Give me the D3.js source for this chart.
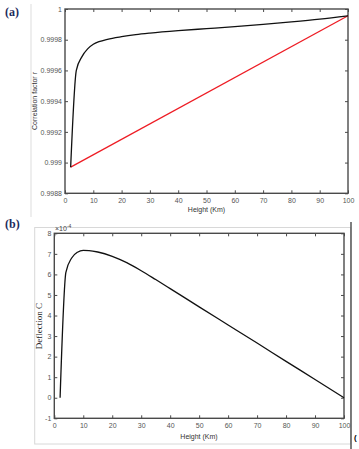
<!DOCTYPE html>
<html><head><meta charset="utf-8">
<script src="https://cdn.jsdelivr.net/npm/d3@7"></script>
<style>
html,body{margin:0;padding:0;background:#fff;}
svg{display:block;}
</style></head>
<body>
<script>
// ---- data ----
const heightA = [2,4,6,8,10,12,15,20,25,30,40,50,60,70,80,90,100];
const corrBlack = [0.99897,0.9996,0.99969,0.99974,0.99977,0.999787,0.999803,0.99982,0.999833,0.999843,0.999859,0.999872,0.999885,0.9999,0.999916,0.999934,0.999956];
const heightRed = [2,100];
const corrRed = [0.99897,0.999956];
const yTicksA = [0.9988,0.999,0.9992,0.9994,0.9996,0.9998,1];
const yTickLabelsA = ["0.9988","0.999","0.9992","0.9994","0.9996","0.9998","1"];
const xTicks = [0,10,20,30,40,50,60,70,80,90,100];

const heightB = [2,4,6,8,10,12,15,20,25,30,35,40,50,60,70,80,90,100];
const deflB = [0,6.1,6.8,7.08,7.17,7.16,7.09,6.88,6.57,6.18,5.75,5.31,4.42,3.54,2.66,1.77,0.89,0];
const yTicksB = [-1,0,1,2,3,4,5,6,7,8];

const W = 359, H = 449;
const svg = d3.select("body").append("svg").attr("width",W).attr("height",H)
  .style("font-family","'Liberation Sans', Arial, sans-serif");

const axisColor = "#4a4a4a";
const tickText = "#555";

function styleAxis(g){
  g.select(".domain").remove();
  g.selectAll(".tick line").attr("stroke",axisColor).attr("stroke-width",1);
  g.selectAll(".tick text").attr("fill",tickText).style("font-size","7px").style("font-family","'Liberation Sans', Arial, sans-serif");
}

function panel(opts){
  const {x0,x1,y0,y1,ydom,yticks,ylabels} = opts;
  const x = d3.scaleLinear().domain([0,100]).range([x0,x1]);
  const y = d3.scaleLinear().domain(ydom).range([y1,y0]);
  const g = svg.append("g");
  g.append("g").attr("transform",`translate(0,${y1})`)
    .call(d3.axisBottom(x).tickValues(xTicks).tickSize(-3).tickPadding(5).tickFormat(d3.format("d")))
    .call(styleAxis);
  g.append("g").attr("transform",`translate(0,${y0})`)
    .call(d3.axisTop(x).tickValues(xTicks).tickSize(-3).tickFormat(""))
    .call(styleAxis);
  g.append("g").attr("transform",`translate(${x0},0)`)
    .call(d3.axisLeft(y).tickValues(yticks).tickSize(-3).tickPadding(3).tickFormat((d,i)=>ylabels[i]))
    .call(styleAxis);
  g.append("g").attr("transform",`translate(${x1},0)`)
    .call(d3.axisRight(y).tickValues(yticks).tickSize(-3).tickFormat(""))
    .call(styleAxis);
  g.append("rect").attr("x",x0).attr("y",y0).attr("width",x1-x0).attr("height",y1-y0)
    .attr("fill","none").attr("stroke",axisColor).attr("stroke-width",1.4);
  return {x,y,g};
}

// ---- panel (a) ----
svg.append("line").attr("x1",31).attr("x2",31).attr("y1",4).attr("y2",217)
  .attr("stroke","#ddd").attr("stroke-width",1);
const A = panel({x0:65,x1:348,y0:9,y1:193.3,ydom:[0.9988,1],yticks:yTicksA,ylabels:yTickLabelsA});
const lineA = d3.line().x(d=>A.x(d[0])).y(d=>A.y(d[1]));
A.g.append("path").datum(heightRed.map((h,i)=>[h,corrRed[i]])).attr("d",lineA)
  .attr("fill","none").attr("stroke","#ee1c24").attr("stroke-width",1.3);
A.g.append("path").datum(heightA.map((h,i)=>[h,corrBlack[i]])).attr("d",lineA.curve(d3.curveMonotoneX))
  .attr("fill","none").attr("stroke","#111").attr("stroke-width",1.3);
svg.append("text").attr("x",206.5).attr("y",212).attr("text-anchor","middle")
  .attr("fill","#333").style("font-size","7px").text("Height (Km)");
svg.append("text").attr("transform","translate(37,101) rotate(-90)").attr("text-anchor","middle")
  .attr("fill","#333").style("font-size","7px").text("Correlation factor r");
svg.append("text").attr("x",5).attr("y",16).attr("fill","#1b2a5c")
  .style("font-family","'Liberation Serif', 'Times New Roman', serif").style("font-weight","bold").style("font-size","12px").text("(a)");

// ---- panel (b) ----
svg.append("rect").attr("x",34.7).attr("y",227.5).attr("width",316).attr("height",216.5)
  .attr("fill","none").attr("stroke","#d8d8d8").attr("stroke-width",1);
svg.append("line").attr("x1",351).attr("x2",351).attr("y1",222).attr("y2",449)
  .attr("stroke","#555").attr("stroke-width",1.5);
const B = panel({x0:54.3,x1:344,y0:233.3,y1:418.3,ydom:[-1,8],yticks:yTicksB,ylabels:yTicksB.map(String)});
const lineB = d3.line().x(d=>B.x(d[0])).y(d=>B.y(d[1])).curve(d3.curveMonotoneX);
B.g.append("path").datum(heightB.map((h,i)=>[h,deflB[i]])).attr("d",lineB)
  .attr("fill","none").attr("stroke","#111").attr("stroke-width",1.3);
svg.append("text").attr("x",199).attr("y",439).attr("text-anchor","middle")
  .attr("fill","#333").style("font-size","7px").text("Height (Km)");
svg.append("text").attr("transform","translate(42,326) rotate(-90)").attr("text-anchor","middle")
  .attr("fill","#222").style("font-family","'Liberation Serif', 'Times New Roman', serif").style("font-size","9px").text("Deflection C");
const sci = svg.append("text").attr("x",55).attr("y",231).attr("fill","#444").style("font-size","7px");
sci.append("tspan").text("\u00d710");
sci.append("tspan").attr("dy",-3).style("font-size","5px").text("-4");
svg.append("text").attr("x",5).attr("y",228).attr("fill","#1b2a5c")
  .style("font-family","'Liberation Serif', 'Times New Roman', serif").style("font-weight","bold").style("font-size","12px").text("(b)");
svg.append("text").attr("x",354).attr("y",440).attr("fill","#000").style("font-size","8px").style("font-weight","bold").text("(");
</script>
</body></html>
